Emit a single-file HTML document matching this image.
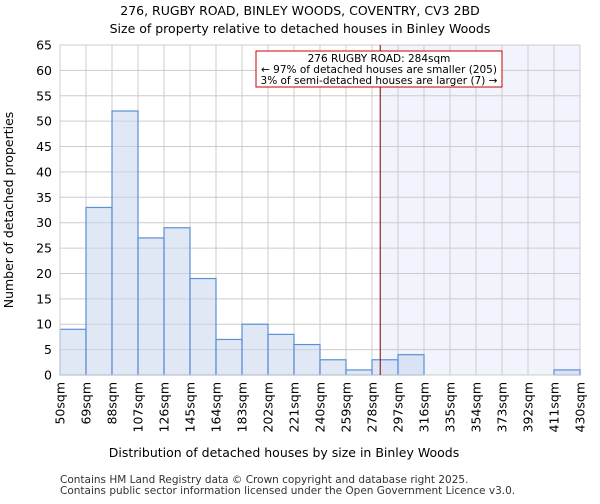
<!DOCTYPE html>
<html><head><meta charset="utf-8"><style>
body{margin:0;background:#fff;font-family:"DejaVu Sans","Liberation Sans",sans-serif;}
</style></head><body>
<svg id="chart" width="600" height="500" viewBox="0 0 600 500" xmlns="http://www.w3.org/2000/svg" font-family="DejaVu Sans, Liberation Sans, sans-serif">
<text x="300" y="15" text-anchor="middle" font-size="12.5">276, RUGBY ROAD, BINLEY WOODS, COVENTRY, CV3 2BD</text>
<text x="300" y="33" text-anchor="middle" font-size="12.5">Size of property relative to detached houses in Binley Woods</text>
<g id="shade"></g><g id="grid"></g><g id="bars"></g><g id="axes"></g>
<text x="284" y="457" text-anchor="middle" font-size="12.5">Distribution of detached houses by size in Binley Woods</text>
<text transform="translate(13,210) rotate(-90)" text-anchor="middle" font-size="12.5">Number of detached properties</text>
<text x="60" y="483" font-size="10.5" fill="#333">Contains HM Land Registry data © Crown copyright and database right 2025.</text>
<text x="60" y="494" font-size="10.5" fill="#333">Contains public sector information licensed under the Open Government Licence v3.0.</text>
</svg>
<script>
const binEdges=[50,69,88,107,126,145,164,183,202,221,240,259,278,297,316,335,354,373,392,411,430];
const counts=[9,33,52,27,29,19,7,10,8,6,3,1,3,4,0,0,0,0,0,1];
const yTicks=[0,5,10,15,20,25,30,35,40,45,50,55,60,65];
const propertySize=284;
const annotationLines=["276 RUGBY ROAD: 284sqm","← 97% of detached houses are smaller (205)","3% of semi-detached houses are larger (7) →"];
const NS="http://www.w3.org/2000/svg";
const X0=60,X1=580,Y0=375,Y1=45;
const xs=v=>X0+(v-50)/(430-50)*(X1-X0);
const ys=v=>Y0-v/65*(Y0-Y1);
function mk(t,a,p){const e=document.createElementNS(NS,t);for(const k in a)e.setAttribute(k,a[k]);p.appendChild(e);return e;}
const shade=document.getElementById('shade'),grid=document.getElementById('grid'),bars=document.getElementById('bars'),axes=document.getElementById('axes');
const sh=mk('rect',{x:xs(propertySize),y:Y1,width:X1-xs(propertySize),height:Y0-Y1,fill:'#f1f4fc'},shade);


yTicks.forEach(t=>{
 const l=mk('line',{x1:X0,x2:X1,y1:ys(t),y2:ys(t),stroke:'#ccc','stroke-width':1},grid);
 
 
 const tx=mk('text',{x:X0-8,y:ys(t)+4.5,'text-anchor':'end','font-size':12.5},axes);
 tx.textContent=t;
 
 
});
binEdges.forEach(b=>{
 const l=mk('line',{x1:xs(b),x2:xs(b),y1:Y1,y2:Y0,stroke:'#ccc','stroke-width':1},grid);
 
 
 const tx=mk('text',{transform:`translate(${xs(b)+4.5},382) rotate(-90)`,'text-anchor':'end','font-size':12.5},axes);
 tx.textContent=b+'sqm';
 
 
});
counts.forEach((c,i)=>{
 if(c<=0)return;
 const x=xs(binEdges[i]),w=xs(binEdges[i+1])-x;
 const r=mk('rect',{x:x,y:ys(c),width:w,height:Y0-ys(c),fill:'rgba(198,214,238,0.55)',stroke:'#5b8fd6','stroke-width':1.2},bars);
 
 
});
const ax=mk('path',{d:`M${X0} ${Y1}V${Y0}H${X1}`,fill:'none',stroke:'#ccc','stroke-width':1},axes);


const pl=mk('line',{x1:xs(propertySize),x2:xs(propertySize),y1:Y1,y2:Y0,stroke:'#800000','stroke-width':1},axes);


const bx=mk('rect',{x:256,y:51,width:246,height:36,fill:'#fff',stroke:'#c00','stroke-width':1},axes);


annotationLines.forEach((s,i)=>{
 const t=mk('text',{x:379,y:62+i*11,'text-anchor':'middle','font-size':10.5},axes);
 t.textContent=s;
 
 
});
</script>
</body></html>
